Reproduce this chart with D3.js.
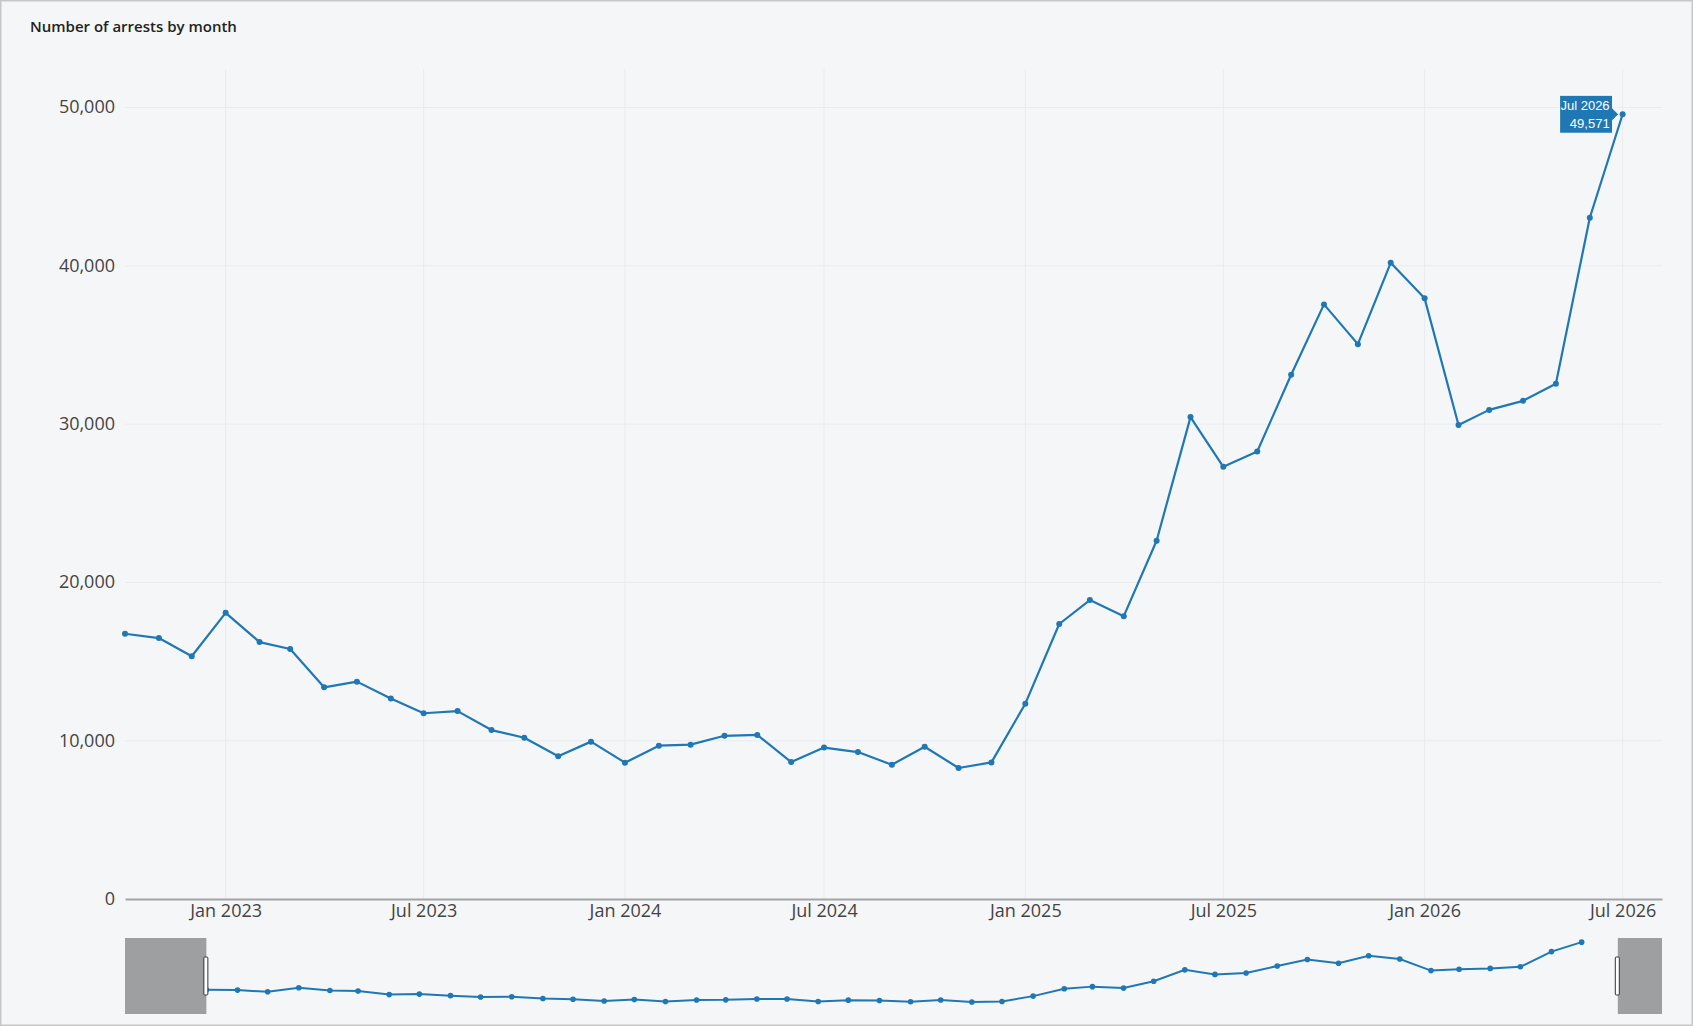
<!DOCTYPE html>
<html>
<head>
<meta charset="utf-8">
<script src="https://cdn.jsdelivr.net/npm/d3@7"></script>
<style>
  html, body { margin: 0; padding: 0; background: #f5f6f8; }
  svg { display: block; }
</style>
</head>
<body>
<div id="chart"></div>
<script>
// monthly data, Oct 2022 .. Jul 2026
const months = [
  "2022-10", "2022-11", "2022-12",
  "2023-01", "2023-02", "2023-03", "2023-04", "2023-05", "2023-06",
  "2023-07", "2023-08", "2023-09", "2023-10", "2023-11", "2023-12",
  "2024-01", "2024-02", "2024-03", "2024-04", "2024-05", "2024-06",
  "2024-07", "2024-08", "2024-09", "2024-10", "2024-11", "2024-12",
  "2025-01", "2025-02", "2025-03", "2025-04", "2025-05", "2025-06",
  "2025-07", "2025-08", "2025-09", "2025-10", "2025-11", "2025-12",
  "2026-01", "2026-02", "2026-03", "2026-04", "2026-05", "2026-06",
  "2026-07"
];
const arrests = [
  16757, 16482, 15331,
  18076, 16228, 15794, 13372, 13731, 12668,
  11734, 11869, 10672, 10188, 9012, 9941,
  8612, 9683, 9748, 10309, 10362, 8651,
  9563, 9281, 8483, 9618, 8274, 8629,
  12338, 17371, 18883, 17868, 22634, 30441,
  27302, 28269, 33112, 37561, 35049, 40187,
  37942, 29943, 30897, 31468, 32553, 43031,
  49571
];
const yTicks = [0, 10000, 20000, 30000, 40000, 50000];
const xRange = ["2022-10-01", "2026-08-06"];
const sliderRange = ["2022-07-12", "2026-09-19"];
const yRange = [0, 52430];
const title = "Number of arrests by month";

const W = 1693, H = 1026;
const mar = { left: 125, right: 31, top: 69, bottom: 127 };
const slider = { top: 938, bottom: 1014 };
const color = "#1f77b4";
const font = "'Open Sans', 'Noto Sans', sans-serif";

const parseM = d3.timeParse("%Y-%m");
const parseD = d3.timeParse("%Y-%m-%d");
const data = months.map((m, i) => ({ date: parseM(m), value: arrests[i] }));

const svg = d3.select("#chart").append("svg")
  .attr("width", W)
  .attr("height", H);

svg.append("rect")
  .attr("x", 0.75).attr("y", 0.75)
  .attr("width", W - 1.5).attr("height", H - 1.5)
  .attr("fill", "#f5f6f8")
  .attr("stroke", "#c6c7c9")
  .attr("stroke-width", 1.5);

svg.append("text")
  .attr("x", 30)
  .attr("y", 32)
  .attr("font-family", font)
  .attr("font-size", 15)
  .attr("font-weight", 600)
  .attr("fill", "#222")
  .text(title);

var x = d3.scaleTime()
  .domain(xRange.map(parseD))
  .range([mar.left, W - mar.right]);

var y = d3.scaleLinear()
  .domain(yRange)
  .range([H - mar.bottom, mar.top]);

var xTicks = d3.timeMonth.every(6).range(parseM("2023-01"), parseM("2026-08"));

// grid
svg.append("g")
  .selectAll("line")
  .data(xTicks)
  .join("line")
  .attr("x1", d => x(d)).attr("x2", d => x(d))
  .attr("y1", mar.top).attr("y2", H - mar.bottom)
  .attr("stroke", "#e9ebee")
  .attr("stroke-width", 1);

svg.append("g")
  .selectAll("line")
  .data(yTicks.slice(1))
  .join("line")
  .attr("x1", mar.left).attr("x2", W - mar.right)
  .attr("y1", d => y(d)).attr("y2", d => y(d))
  .attr("stroke", "#e9ebee")
  .attr("stroke-width", 1);

// y axis labels
var yAxis = svg.append("g")
  .attr("transform", `translate(${mar.left},0)`)
  .call(d3.axisLeft(y).tickValues(yTicks).tickFormat(d3.format(",")).tickSize(0).tickPadding(10));
yAxis.select(".domain").remove();
yAxis.selectAll("text")
  .attr("font-family", font)
  .attr("font-size", 18)
  .attr("fill", "#444")
  .attr("dy", "0.3em");

// x axis
var xAxis = svg.append("g")
  .attr("transform", `translate(0,${H - mar.bottom})`)
  .call(d3.axisBottom(x).tickValues(xTicks).tickFormat(d3.timeFormat("%b %Y")).tickSize(0).tickPadding(3));
xAxis.select(".domain")
  .attr("stroke", "#a3a4a6")
  .attr("stroke-width", 2);
xAxis.selectAll("text")
  .attr("font-family", font)
  .attr("font-size", 18)
  .attr("fill", "#444")
  .attr("dy", "0.82em");

// main line
var line = d3.line()
  .x(d => x(d.date))
  .y(d => y(d.value));

svg.append("path")
  .datum(data)
  .attr("fill", "none")
  .attr("stroke", color)
  .attr("stroke-width", 2.2)
  .attr("stroke-linejoin", "round")
  .attr("d", line);

svg.append("g")
  .selectAll("circle")
  .data(data)
  .join("circle")
  .attr("cx", d => x(d.date))
  .attr("cy", d => y(d.value))
  .attr("r", 3)
  .attr("fill", color);

// hover label on last point
var last = data[data.length - 1];
var px = x(last.date), py = y(last.value);
var tipX = px - 4, boxR = tipX - 6, boxW = 53, boxH = 38;
var hover = svg.append("g");
hover.append("path")
  .attr("d", `M${tipX},${py} L${boxR},${py - 6} L${boxR},${py - boxH / 2} L${boxR - boxW},${py - boxH / 2}`
    + ` L${boxR - boxW},${py + boxH / 2} L${boxR},${py + boxH / 2} L${boxR},${py + 6} Z`)
  .attr("fill", color)
  .attr("stroke", "#fff")
  .attr("stroke-width", 1);
hover.selectAll("text")
  .data([d3.timeFormat("%b %Y")(last.date), d3.format(",")(last.value)])
  .join("text")
  .attr("x", boxR - 3)
  .attr("y", (d, i) => py - 4 + i * 18)
  .attr("text-anchor", "end")
  .attr("font-family", "'Liberation Sans', Arial, sans-serif")
  .attr("font-size", 13)
  .attr("fill", "#fff")
  .text(d => d);

// range slider
var sx = d3.scaleTime()
  .domain(sliderRange.map(parseD))
  .range([mar.left, W - mar.right]);
var sy = d3.scaleLinear()
  .domain(yRange)
  .range([slider.bottom, slider.top]);

var sg = svg.append("g");
sg.append("path")
  .datum(data)
  .attr("fill", "none")
  .attr("stroke", color)
  .attr("stroke-width", 2)
  .attr("d", d3.line().x(d => sx(d.date)).y(d => sy(d.value)));
sg.selectAll("circle")
  .data(data)
  .join("circle")
  .attr("cx", d => sx(d.date))
  .attr("cy", d => sy(d.value))
  .attr("r", 2.8)
  .attr("fill", color);

var win = xRange.map(parseD);
sg.append("rect")
  .attr("x", sx.range()[0]).attr("y", slider.top)
  .attr("width", sx(win[0]) - sx.range()[0]).attr("height", slider.bottom - slider.top)
  .attr("fill", "#9e9fa0");
sg.append("rect")
  .attr("x", sx(win[1])).attr("y", slider.top)
  .attr("width", sx.range()[1] - sx(win[1])).attr("height", slider.bottom - slider.top)
  .attr("fill", "#9e9fa0");

sg.selectAll(".handle")
  .data(win)
  .join("rect")
  .attr("class", "handle")
  .attr("x", d => sx(d) - 2.5)
  .attr("y", slider.top + 19)
  .attr("width", 4)
  .attr("height", 38)
  .attr("rx", 1)
  .attr("fill", "#fff")
  .attr("stroke", "#333")
  .attr("stroke-width", 1);
</script>
</body>
</html>
